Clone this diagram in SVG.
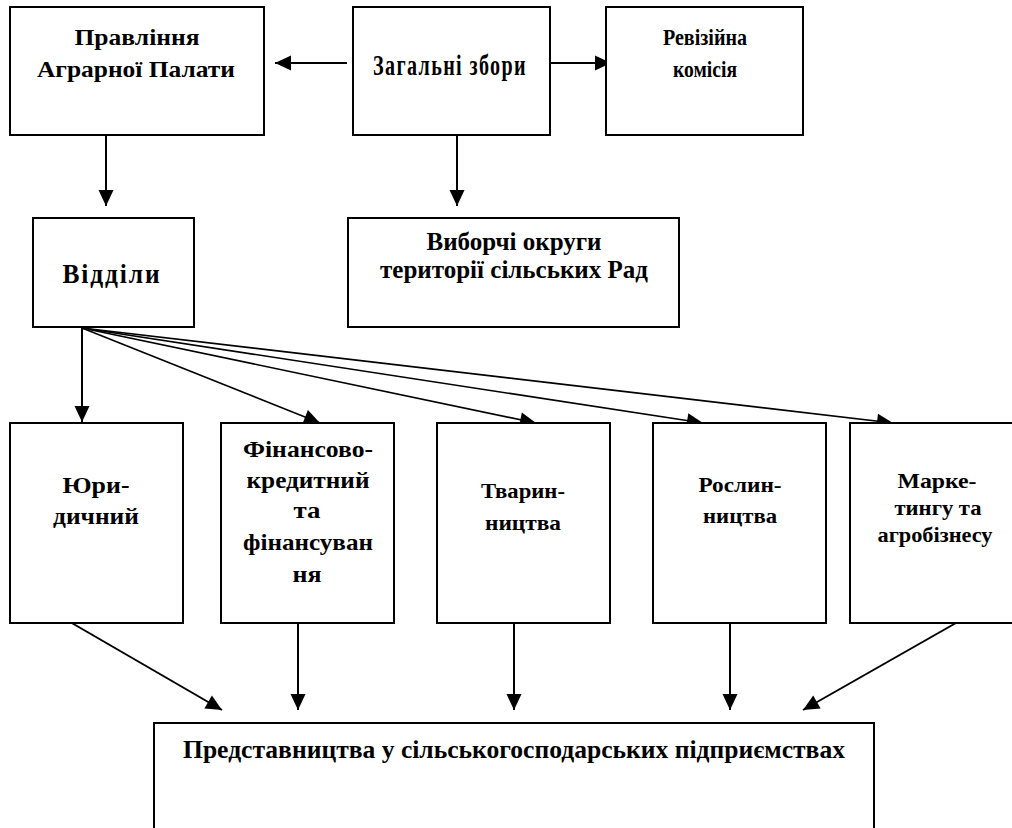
<svg xmlns="http://www.w3.org/2000/svg" width="1012" height="828" viewBox="0 0 1012 828">
<style>
.box{fill:#fff;stroke:#000;stroke-width:2}
.t{font-family:"Liberation Serif","Times New Roman",serif;font-weight:bold;fill:#000;text-anchor:middle}
.c{stroke:#000;stroke-width:2;fill:none}
.f{stroke:#000;stroke-width:1.6;fill:none}
</style>
<defs>
<marker id="ah" markerUnits="userSpaceOnUse" markerWidth="17" markerHeight="16" refX="16" refY="7.5" orient="auto" overflow="visible">
<path d="M0,0 L16,7.5 L0,15 z" fill="#000"/>
</marker>
</defs>
<rect width="1012" height="828" fill="#fff"/>
<g id="connectors">
<line class="c" x1="347" y1="63" x2="275" y2="63" marker-end="url(#ah)"/>
<line class="c" x1="550" y1="63" x2="611" y2="63" marker-end="url(#ah)"/>
<line class="c" x1="106" y1="135" x2="106" y2="206" marker-end="url(#ah)"/>
<line class="c" x1="457" y1="135" x2="457" y2="206" marker-end="url(#ah)"/>
<line class="c" x1="82" y1="328" x2="82" y2="422" marker-end="url(#ah)"/>
<line class="f" x1="82" y1="328" x2="320" y2="423" marker-end="url(#ah)"/>
<line class="f" x1="82" y1="328" x2="536" y2="423" marker-end="url(#ah)"/>
<line class="f" x1="82" y1="328" x2="703" y2="423" marker-end="url(#ah)"/>
<line class="f" x1="82" y1="328" x2="893" y2="423" marker-end="url(#ah)"/>
<line class="c" x1="58" y1="615" x2="222" y2="710" marker-end="url(#ah)"/>
<line class="c" x1="298" y1="615" x2="298" y2="710" marker-end="url(#ah)"/>
<line class="c" x1="514" y1="615" x2="514" y2="710" marker-end="url(#ah)"/>
<line class="c" x1="730" y1="615" x2="730" y2="710" marker-end="url(#ah)"/>
<line class="c" x1="970" y1="615" x2="803" y2="710" marker-end="url(#ah)"/>
</g>
<g id="pravlinnia">
<rect class="box" x="10" y="7" width="254" height="128"/>
<text class="t" x="137" y="45" font-size="24" textLength="125" lengthAdjust="spacingAndGlyphs">Правління</text>
<text class="t" x="136" y="77" font-size="24" textLength="198" lengthAdjust="spacingAndGlyphs">Аграрної Палати</text>
</g>
<g id="zahalni">
<rect class="box" x="353" y="7" width="197" height="128"/>
<text class="t" x="450" y="75" font-size="29" letter-spacing="2" textLength="154" lengthAdjust="spacingAndGlyphs">Загальні збори</text>
</g>
<g id="reviziina">
<rect class="box" x="606" y="7" width="197" height="128"/>
<text class="t" x="705" y="45" font-size="24" textLength="84" lengthAdjust="spacingAndGlyphs">Ревізійна</text>
<text class="t" x="705" y="77" font-size="24" textLength="64" lengthAdjust="spacingAndGlyphs">комісія</text>
</g>
<g id="viddily">
<rect class="box" x="33" y="218" width="161" height="109"/>
<text class="t" x="112" y="283" font-size="27" letter-spacing="2" textLength="99" lengthAdjust="spacingAndGlyphs">Відділи</text>
</g>
<g id="vyborchi">
<rect class="box" x="348" y="218" width="331" height="109"/>
<text class="t" x="514" y="250" font-size="25" textLength="175" lengthAdjust="spacingAndGlyphs">Виборчі округи</text>
<text class="t" x="514" y="278" font-size="25" textLength="268" lengthAdjust="spacingAndGlyphs">території сільських Рад</text>
</g>
<g id="yurydychnyi">
<rect class="box" x="10" y="423" width="173" height="200"/>
<text class="t" x="96" y="493" font-size="24" textLength="67" lengthAdjust="spacingAndGlyphs">Юри-</text>
<text class="t" x="96" y="524" font-size="24" textLength="86" lengthAdjust="spacingAndGlyphs">дичний</text>
</g>
<g id="finansovo">
<rect class="box" x="221" y="423" width="173" height="200"/>
<text class="t" x="308" y="457" font-size="24" textLength="130" lengthAdjust="spacingAndGlyphs">Фінансово-</text>
<text class="t" x="308" y="488" font-size="24" textLength="123" lengthAdjust="spacingAndGlyphs">кредитний</text>
<text class="t" x="307" y="518" font-size="24" textLength="27" lengthAdjust="spacingAndGlyphs">та</text>
<text class="t" x="308" y="550" font-size="24" textLength="130" lengthAdjust="spacingAndGlyphs">фінансуван</text>
<text class="t" x="307" y="582" font-size="24" textLength="29" lengthAdjust="spacingAndGlyphs">ня</text>
</g>
<g id="tvarynnytstva">
<rect class="box" x="437" y="423" width="173" height="200"/>
<text class="t" x="523" y="498" font-size="21" textLength="84" lengthAdjust="spacingAndGlyphs">Тварин-</text>
<text class="t" x="523" y="530" font-size="21" textLength="76" lengthAdjust="spacingAndGlyphs">ництва</text>
</g>
<g id="roslynnytstva">
<rect class="box" x="653" y="423" width="173" height="200"/>
<text class="t" x="740" y="492" font-size="21" textLength="83" lengthAdjust="spacingAndGlyphs">Рослин-</text>
<text class="t" x="740" y="523" font-size="21" textLength="74" lengthAdjust="spacingAndGlyphs">ництва</text>
</g>
<g id="marketynhu">
<rect class="box" x="850" y="423" width="175" height="200"/>
<text class="t" x="937" y="488" font-size="22" textLength="79" lengthAdjust="spacingAndGlyphs">Марке-</text>
<text class="t" x="938" y="515" font-size="22" textLength="87" lengthAdjust="spacingAndGlyphs">тингу та</text>
<text class="t" x="935" y="542" font-size="22" textLength="115" lengthAdjust="spacingAndGlyphs">агробізнесу</text>
</g>
<g id="predstavnytstva">
<rect class="box" x="154" y="723" width="720" height="120"/>
<text class="t" x="514" y="758" font-size="25" textLength="662" lengthAdjust="spacingAndGlyphs">Представництва у сільськогосподарських підприємствах</text>
</g>
</svg>
